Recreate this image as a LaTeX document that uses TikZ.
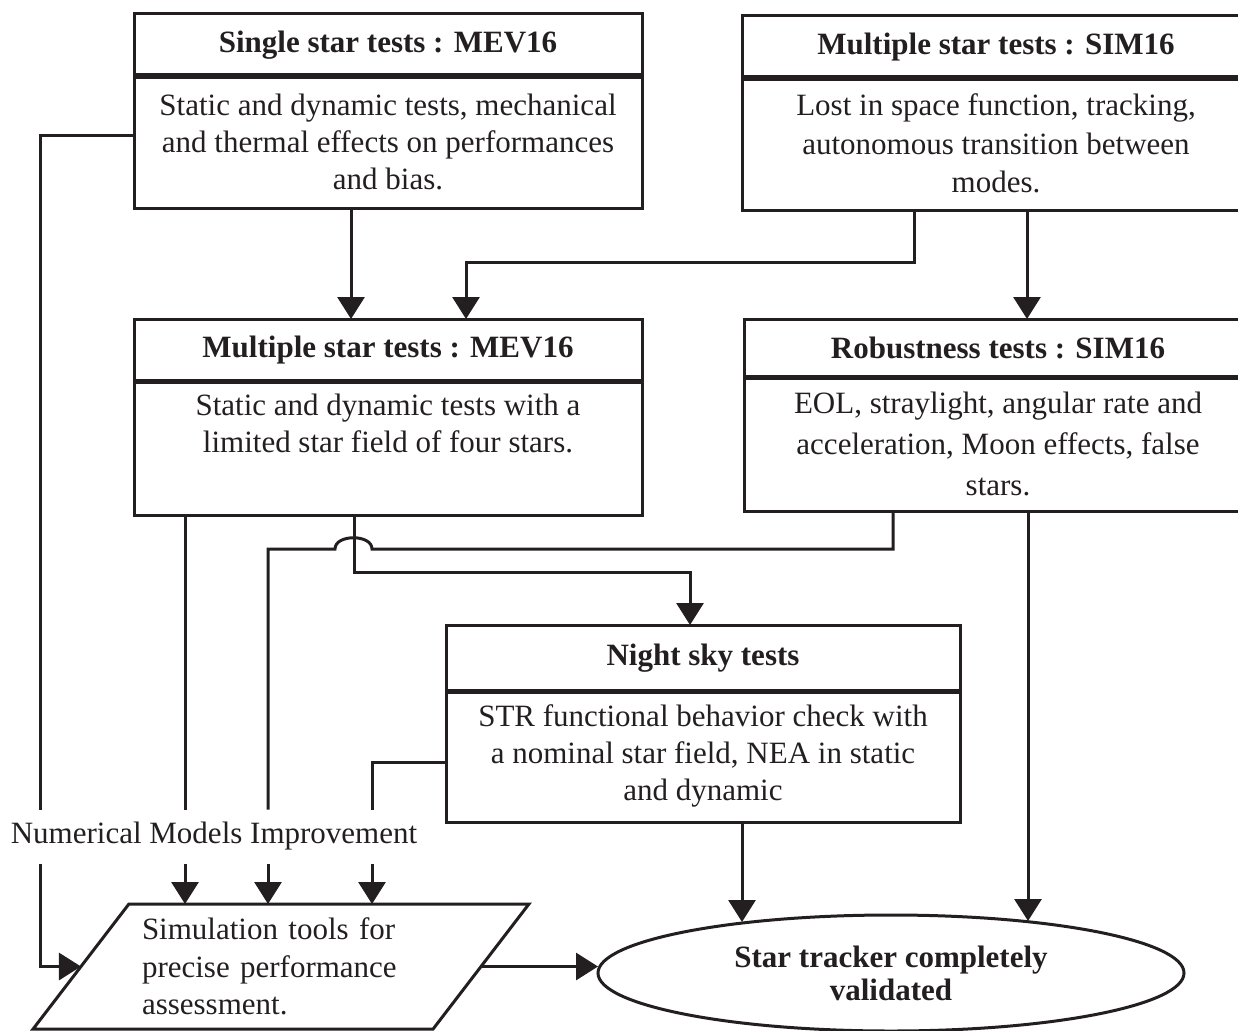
\documentclass[tikz,border=0pt]{standalone}
\usepackage{fontspec}
\setmainfont{Liberation Serif}
\usetikzlibrary{arrows.meta,shapes.geometric}
\definecolor{ink}{HTML}{231F20}
\begin{document}
\begin{tikzpicture}[x=1pt,y=-1pt,line width=3pt,color=ink,
  ttl/.style={draw,minimum width=508pt,inner sep=0pt,outer sep=0pt,font=\fontsize{31}{37}\selectfont\bfseries},
  txt/.style={draw,minimum width=508pt,inner sep=0pt,outer sep=0pt,align=center,font=\fontsize{31}{37}\selectfont},
  arr/.style={-{Triangle[length=22pt,width=27pt]}}]
\clip (0,0) rectangle (1238,1030);
\node[ttl,minimum height=63pt] (t1) at (388,45) {Single star tests : MEV16};
\node[txt,minimum height=133pt] (b1) at (388,141.5) {Static and dynamic tests, mechanical\\and thermal effects on performances\\and bias.};
\node[ttl,minimum height=63pt] (t2) at (996,47) {Multiple star tests : SIM16};
\node[txt,minimum height=133pt,font=\fontsize{31}{38.5}\selectfont] (b2) at (996,143.5) {Lost in space function, tracking,\\autonomous transition between\\modes.};
\node[ttl,minimum height=62pt] (t3) at (388,350) {Multiple star tests : MEV16};
\node[txt,minimum height=135pt] (b3) at (388,447.5) {Static and dynamic tests with a\\limited star field of four stars.\\\strut};
\node[ttl,minimum height=58pt] (t4) at (998,348) {Robustness tests : SIM16};
\node[txt,minimum height=135pt,font=\fontsize{31}{41}\selectfont] (b4) at (998,443.5) {EOL, straylight, angular rate and\\acceleration, Moon effects, false\\stars.};
\node[ttl,minimum width=514pt,minimum height=66pt] (t5) at (703,658) {Night sky tests};
\node[txt,minimum width=514pt,minimum height=132pt] (b5) at (703,756) {STR functional behavior check with\\a nominal star field, NEA in static\\and dynamic};
\node[inner sep=0pt,minimum height=51pt,font=\fontsize{31}{37}\selectfont] (lbl) at (214,836.5) {Numerical Models Improvement};
\node[draw,trapezium,trapezium left angle=48,trapezium right angle=132,trapezium stretches=true,
  minimum width=498pt,minimum height=125pt,inner sep=0pt,outer sep=0pt,text width=278pt,align=left,
  font=\fontsize{31}{37.5}\selectfont] (sim) at (281,966.5) {Simulation tools for\\precise performance\\assessment.};
\node[draw,ellipse,minimum width=586pt,minimum height=116pt,inner sep=0pt,outer sep=0pt,align=center,
  font=\fontsize{31}{33}\selectfont\bfseries] (val) at (891,973) {Star tracker completely\\validated};
\foreach \n in {t1,t2,t3,t4,t5} \draw[line width=5pt] (\n.south west) -- (\n.south east);
\draw[arr] (b1.south -| 351,0) -- (t3.north -| 351,0);
\draw[arr] (b2.south -| 914,0) |- (466,262) -- (t3.north -| 466,0);
\draw[arr] (b2.south -| 1027,0) -- (t4.north -| 1027,0);
\draw ([yshift=6.5pt]b1.west) -| (lbl.north -| 40,0);
\draw (b3.south -| 185,0) -- (lbl.north -| 185,0);
\draw[arr] (b3.south -| 354,0) |- (690,572) -- (t5.north -| 690,0);
\draw (b4.south -| 893,0) |- (372,549) .. controls (372,534) and (335,534) .. (335,549) -| (lbl.north -| 268,0);
\draw ([yshift=-6pt]b5.west) -| (lbl.north -| 372,0);
\draw[arr,shorten >=-6pt] (b4.south -| 1028,0) -- (val.north -| 1028,0);
\draw[arr,shorten >=-7pt] (b5.south -| 742,0) -- (val.north -| 742,0);
\foreach \x in {185,268,372} \draw[arr] (lbl.south -| \x,0) -- (sim.north -| \x,0);
\draw[arr] (lbl.south -| 40,0) |- (sim.west);
\draw[arr] (sim.east) -- (sim.east -| val.west);
\end{tikzpicture}
\end{document}
